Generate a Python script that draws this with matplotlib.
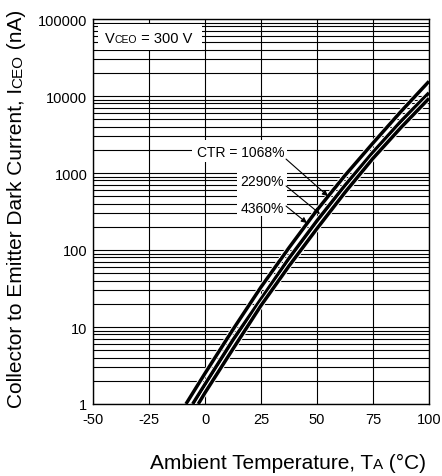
import matplotlib
matplotlib.use("Agg")
from matplotlib import pyplot as plt
from matplotlib import transforms, patheffects
from matplotlib.patches import Rectangle
from matplotlib.ticker import LogLocator, NullFormatter, FixedLocator

plt.rcParams['font.family'] = ['Liberation Sans', 'DejaVu Sans']

# dark current (nA) vs ambient temperature (deg C)
t_1068 = [-8.5, 0, 12.5, 25, 37.5, 50, 62.5, 75, 87.5, 100]
i_1068 = [1.0, 2.5, 9.3, 33, 107, 330, 930, 2450, 6300, 15500]
t_2290 = [-5.5, 0, 12.5, 25, 37.5, 50, 62.5, 75, 87.5, 100]
i_2290 = [1.0, 1.8, 6.8, 23, 78, 240, 690, 1860, 4700, 11000]
t_4360 = [-3, 0, 12.5, 25, 37.5, 50, 62.5, 75, 87.5, 100]
i_4360 = [1.0, 1.4, 5.2, 19, 62, 190, 560, 1550, 3900, 9300]

x_ticks = [-50, -25, 0, 25, 50, 75, 100]
y_ticks = [1, 10, 100, 1000, 10000, 100000]
y_ticklabels = ['1', '10', '100', '1000', '10000', '100000']

# labels and where the arrows point (T, nA)
ctr_labels = ['CTR = 1068%', '2290%', '4360%']
label_pos = [(35.3, 1670), (35.3, 698), (35.3, 312)]
arrow_from = [(36.2, 1515), (36.2, 678), (36.2, 372)]
arrow_to = [(54.9, 501), (51.3, 295), (45.5, 224)]

fig = plt.figure(figsize=(4.42, 4.77), dpi=100)
ax = fig.add_axes([93/442, 1-405/477, 336/442, 385/477])

ax.set_yscale('log')
ax.set_xlim(-50, 100)
ax.set_ylim(1, 100000)
ax.xaxis.set_major_locator(FixedLocator(x_ticks))
ax.set_xticklabels([str(v) for v in x_ticks])
ax.yaxis.set_major_locator(FixedLocator(y_ticks))
ax.set_yticklabels(y_ticklabels)
ax.yaxis.set_minor_locator(LogLocator(base=10, subs=range(2, 10)))
ax.yaxis.set_minor_formatter(NullFormatter())
ax.tick_params(which='both', length=0, labelsize=10.5)
ax.tick_params(axis='y', pad=4)
ax.tick_params(axis='x', pad=6)
ax.set_axisbelow(True)
ax.grid(True, which='both', color='black', lw=0.8)
for sp in ax.spines.values():
    sp.set_linewidth(1.0)

# white boxes behind the texts
ax.add_patch(Rectangle((0.015, 0.92), 0.31, 0.067, transform=ax.transAxes,
                       fc='white', ec='none', zorder=1))
ax.add_patch(Rectangle((0.295, 0.629), 0.282, 0.057, transform=ax.transAxes,
                       fc='white', ec='none', zorder=1))
ax.add_patch(Rectangle((0.429, 0.488), 0.148, 0.141, transform=ax.transAxes,
                       fc='white', ec='none', zorder=1))

pe = [patheffects.Stroke(linewidth=3.8, foreground='white'), patheffects.Normal()]
for t, i in [(t_1068, i_1068), (t_2290, i_2290), (t_4360, i_4360)]:
    ax.plot(t, i, color='black', lw=2.5, solid_capstyle='butt',
            path_effects=pe, zorder=3)

for s, p in zip(ctr_labels, label_pos):
    ax.text(p[0], p[1], s, ha='right', va='baseline', fontsize=10, zorder=4)
for a, b in zip(arrow_from, arrow_to):
    ax.annotate('', xy=b, xytext=a,
                arrowprops=dict(arrowstyle='-|>', color='black', lw=0.8,
                                mutation_scale=8, shrinkA=0, shrinkB=0),
                zorder=4)


def chain_text(x, y, pieces, transform, rotation=0):
    r = fig.canvas.get_renderer()
    tr = transform
    for s, size in pieces:
        txt = fig.text(x, y, s, fontsize=size, transform=tr, rotation=rotation,
                       rotation_mode='anchor', ha='left', va='baseline', zorder=5)
        ex = txt.get_window_extent(r)
        if rotation == 0:
            tr = transforms.offset_copy(tr, x=ex.width, units='dots')
        else:
            tr = transforms.offset_copy(tr, y=ex.height, units='dots')


chain_text(0.036, 0.94, [('V', 10.5), ('CEO', 7.5), (' = 300 V', 10.5)], ax.transAxes)
chain_text(150/442, 8/477, [('Ambient Temperature, T', 15), ('A', 11), (' (°C)', 15)],
           fig.transFigure)
chain_text(22/442, 69/477,
           [('Collector to Emitter Dark Current, I', 15), ('CEO', 11), (' (nA)', 15)],
           fig.transFigure, rotation=90)

fig.savefig('out.png', dpi=100)
